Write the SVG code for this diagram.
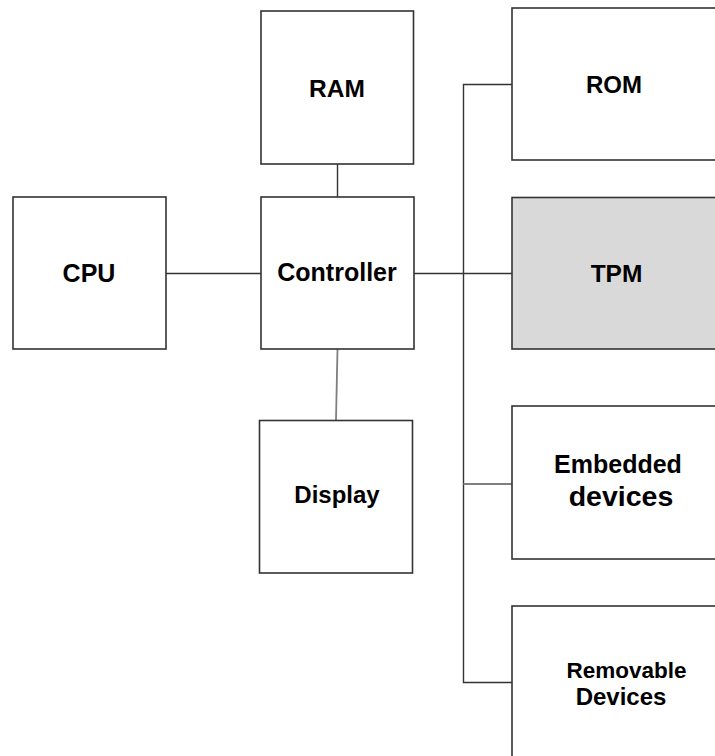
<svg xmlns="http://www.w3.org/2000/svg" width="715" height="756" viewBox="0 0 715 756">
<style>
.box{fill:#ffffff;stroke:#333333;stroke-width:1.6}
.tpm{fill:#d9d9d9}
.ln{fill:none;stroke:#333333;stroke-width:1.4}
.lg{fill:none;stroke:#7f7f7f;stroke-width:1.8}
text{font-family:"Liberation Sans",Arial,sans-serif;font-weight:bold;fill:#000000;text-anchor:middle}
</style>
<rect width="715" height="756" fill="#ffffff"/>
<g id="connectors">
<line class="ln" x1="166" y1="273.5" x2="261" y2="273.5"/>
<line class="ln" x1="414" y1="273.5" x2="512" y2="273.5"/>
<line class="ln" x1="337.5" y1="164" x2="337.5" y2="197"/>
<line class="lg" x1="337.5" y1="349" x2="336" y2="420"/>
<polyline class="ln" points="512,84.5 463.5,84.5 463.5,682.5 512,682.5"/>
<line class="lg" x1="463.5" y1="484" x2="512" y2="484"/>
</g>
<g id="cpu"><rect class="box" x="13" y="197" width="153" height="152"/><text x="89" y="281.5" font-size="25">CPU</text></g>
<g id="ram"><rect class="box" x="261" y="11" width="152.5" height="153"/><text x="337" y="96.5" font-size="24.5">RAM</text></g>
<g id="controller"><rect class="box" x="261" y="197" width="153" height="152"/><text x="337" y="280.5" font-size="25">Controller</text></g>
<g id="display"><rect class="box" x="259.5" y="420.5" width="153" height="152.5"/><text x="337" y="503" font-size="24">Display</text></g>
<g id="rom"><rect class="box" x="512" y="8" width="230" height="152"/><text x="614" y="92.5" font-size="24">ROM</text></g>
<g id="tpm"><rect class="box tpm" x="512" y="197.5" width="230" height="151.5"/><text x="616.5" y="281.5" font-size="24.5">TPM</text></g>
<g id="embedded"><rect class="box" x="512" y="406" width="230" height="153"/><text x="618" y="472.5" font-size="25">Embedded</text><text x="621" y="506" font-size="28.5">devices</text></g>
<g id="removable"><rect class="box" x="512" y="606" width="230" height="180"/><text x="626.5" y="678" font-size="22.5">Removable</text><text x="621" y="705" font-size="24">Devices</text></g>
</svg>
